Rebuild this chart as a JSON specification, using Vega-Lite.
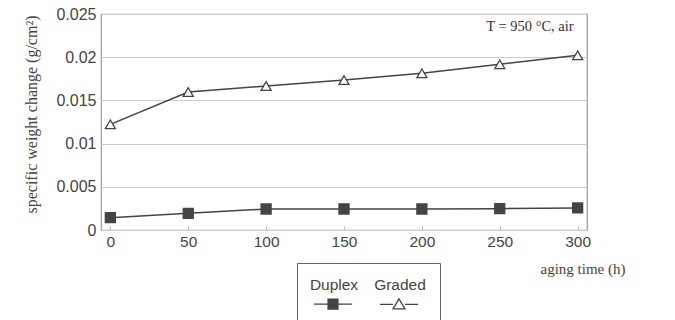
{
  "$schema": "https://vega.github.io/schema/vega-lite/v6.json",
  "width": 486,
  "height": 216,
  "autosize": {"type": "none"},
  "padding": {"left": 101, "top": 14, "right": 88, "bottom": 90},
  "background": "white",
  "config": {
    "view": {"stroke": "#999", "strokeWidth": 1.2},
    "axis": {"labelFont": "Liberation Sans", "labelFontSize": 15.5, "labelColor": "#444", "titleFont": "Liberation Serif", "titleFontWeight": "normal", "titleColor": "#444", "titleFontSize": 13}
  },
  "datasets": {
    "series": [
      {"time": 0, "value": 0.00143, "sample": "Duplex"},
      {"time": 50, "value": 0.00193, "sample": "Duplex"},
      {"time": 100, "value": 0.00243, "sample": "Duplex"},
      {"time": 150, "value": 0.00243, "sample": "Duplex"},
      {"time": 200, "value": 0.00243, "sample": "Duplex"},
      {"time": 250, "value": 0.00247, "sample": "Duplex"},
      {"time": 300, "value": 0.00255, "sample": "Duplex"},
      {"time": 0, "value": 0.01223, "sample": "Graded"},
      {"time": 50, "value": 0.01597, "sample": "Graded"},
      {"time": 100, "value": 0.01667, "sample": "Graded"},
      {"time": 150, "value": 0.01736, "sample": "Graded"},
      {"time": 200, "value": 0.01813, "sample": "Graded"},
      {"time": 250, "value": 0.01918, "sample": "Graded"},
      {"time": 300, "value": 0.02022, "sample": "Graded"}
    ],
    "note": [{"time": 300, "value": 0.0235, "label": "T = 950 °C, air"}]
  },
  "resolve": {"scale": {"shape": "independent"}},
  "layer": [
    {
      "data": {"name": "series"},
      "mark": {"type": "line", "color": "#444", "strokeWidth": 1.5},
      "encoding": {
        "x": {"field": "time", "type": "quantitative", "scale": {"domain": [-6, 306], "nice": false, "zero": false},
          "axis": {"values": [0, 50, 100, 150, 200, 250, 300], "grid": false, "domain": false, "tickSize": -4, "tickColor": "#bbb", "labelPadding": 8, "title": "aging time (h)", "titleFontSize": 15, "titleX": 524, "titleY": 38, "titleAlign": "right", "titleBaseline": "middle", "titleAnchor": null}},
        "y": {"field": "value", "type": "quantitative", "scale": {"domain": [0, 0.025], "nice": false},
          "axis": {"values": [0, 0.005, 0.01, 0.015, 0.02, 0.025], "format": "~g", "grid": true, "gridColor": "#ccc", "gridWidth": 1, "domain": false, "tickSize": 0, "labelPadding": 5, "labelFontSize": 16, "title": "specific weight change (g/cm²)", "titleFontSize": 16, "titlePadding": 16, "titleY": 100}},
        "detail": {"field": "sample"}
      }
    },
    {
      "data": {"name": "series"},
      "mark": {"type": "point", "filled": true, "stroke": "#444", "strokeWidth": 1.3, "size": 100, "opacity": 1},
      "encoding": {
        "x": {"field": "time", "type": "quantitative"},
        "y": {"field": "value", "type": "quantitative"},
        "fill": {"field": "sample", "type": "nominal", "scale": {"domain": ["Duplex", "Graded"], "range": ["#444", "white"]}, "legend": null},
        "shape": {"field": "sample", "type": "nominal", "scale": {"domain": ["Duplex", "Graded"], "range": ["square", "triangle-up"]}, "legend": null}
      }
    },
    {
      "data": {"name": "series"},
      "transform": [{"filter": "datum.time < 0"}],
      "mark": {"type": "point", "filled": true, "stroke": "#444", "strokeWidth": 1.3, "opacity": 1},
      "encoding": {
        "x": {"field": "time", "type": "quantitative"},
        "y": {"field": "value", "type": "quantitative"},
        "fill": {"field": "sample", "type": "nominal", "legend": null},
        "shape": {"field": "sample", "type": "nominal", "scale": {"domain": ["Duplex", "Graded"], "range": ["M-0.87,0.73H1.67M0.07,0.4H0.73V1.06H0.07ZM0.07,0.46H0.73M0.07,0.52H0.73M0.07,0.58H0.73M0.07,0.64H0.73M0.07,0.7H0.73M0.07,0.76H0.73M0.07,0.82H0.73M0.07,0.88H0.73M0.07,0.94H0.73M0.07,1H0.73", "M-0.87,0.73H0.0M0.8,0.73H1.67M0.4,0.36L0.8,1.03H0Z"]},
          "legend": {
            "title": null,
            "orient": "none",
            "legendX": 196,
            "legendY": 249,
            "direction": "horizontal",
            "columns": 2,
            "strokeColor": "#666",
            "padding": 14,
            "symbolSize": 900,
            "symbolStrokeColor": "#444",
            "symbolStrokeWidth": 1.3,
            "symbolFillColor": "white",
            "labelFont": "Liberation Sans",
            "labelFontSize": 15.5,
            "labelColor": "#444",
            "labelAlign": "center",
            "labelBaseline": "bottom",
            "labelOffset": -9,
            "columnPadding": 15
          }}
      }
    },
    {
      "data": {"name": "note"},
      "mark": {"type": "text", "font": "Liberation Serif", "fontSize": 14.5, "color": "#333", "align": "right", "dx": -4},
      "encoding": {
        "x": {"field": "time", "type": "quantitative"},
        "y": {"field": "value", "type": "quantitative"},
        "text": {"field": "label"}
      }
    }
  ]
}
